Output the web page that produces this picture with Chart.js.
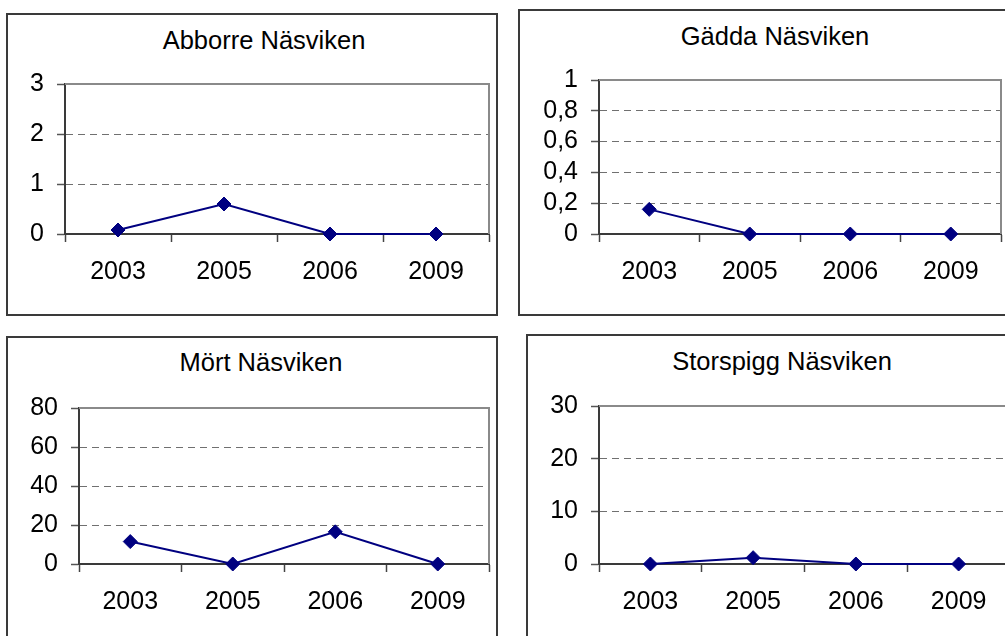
<!DOCTYPE html>
<html>
<head>
<meta charset="utf-8">
<script src="https://cdn.jsdelivr.net/npm/chart.js@4"></script>
<style>
  html, body { margin: 0; padding: 0; background: #fff; }
  body { width: 1005px; height: 636px; overflow: hidden; position: relative; font-family: "Liberation Sans", Arial, sans-serif; }
  .frame { position: absolute; border: 2px solid #3a3a3a; box-sizing: border-box; }
  .title { position: absolute; font-size: 25.5px; line-height: 25px; color: #000; white-space: nowrap; transform: translateX(-50%); }
  .layer { position: absolute; left: 0; top: 0; }
</style>
</head>
<body>
<div class="frame" style="left:6px;top:13px;width:492px;height:303px"></div>
<div class="frame" style="left:518px;top:9px;width:500px;height:307px"></div>
<div class="frame" style="left:6px;top:336px;width:492px;height:320px"></div>
<div class="frame" style="left:526px;top:334px;width:500px;height:320px"></div>

<div class="title" style="left:264px;top:28px">Abborre Näsviken</div>
<div class="title" style="left:775px;top:24px">Gädda Näsviken</div>
<div class="title" style="left:261px;top:350px">Mört Näsviken</div>
<div class="title" style="left:782px;top:349px">Storspigg Näsviken</div>

<canvas id="c1" class="layer" width="1020" height="636"></canvas>
<canvas id="c2" class="layer" width="1020" height="636"></canvas>
<canvas id="c3" class="layer" width="1020" height="636"></canvas>
<canvas id="c4" class="layer" width="1020" height="636"></canvas>

<script>
// Survey years
const years = ['2003', '2005', '2006', '2009'];

// Catch per species
const abborre   = [0.08, 0.6, 0, 0];
const gadda     = [0.16, 0, 0, 0];
const mort      = [11.5, 0, 16.5, 0];
const storspigg = [0, 1.2, 0, 0];

// Y-axis tick labels (Swedish decimal comma)
const abborreTicks   = ['0', '1', '2', '3'];
const gaddaTicks     = ['0', '0,2', '0,4', '0,6', '0,8', '1'];
const mortTicks      = ['0', '20', '40', '60', '80'];
const storspiggTicks = ['0', '10', '20', '30'];

const CW = 1020, CH = 636;   // canvas size
const Y_W = 60, X_H = 60;    // fixed axis box sizes

Chart.defaults.font.family = '"Liberation Sans", Arial, sans-serif';
Chart.defaults.font.size = 25;
Chart.defaults.color = '#000';

// Grey frame on the top and right of the plot area
const plotFrame = {
  id: 'plotFrame',
  beforeDatasetsDraw(chart) {
    const a = chart.chartArea, ctx = chart.ctx;
    ctx.save();
    ctx.strokeStyle = '#8a8a8a';
    ctx.lineWidth = 2;
    ctx.beginPath();
    ctx.moveTo(a.left, a.top);
    ctx.lineTo(a.right, a.top);
    ctx.lineTo(a.right, a.bottom);
    ctx.stroke();
    ctx.restore();
  }
};

function makeChart(id, values, yMax, yStep, yLabels, box) {
  return new Chart(document.getElementById(id), {
    type: 'line',
    data: {
      labels: years,
      datasets: [{
        data: values,
        borderColor: '#000080',
        backgroundColor: '#000080',
        borderWidth: 2,
        pointStyle: 'rectRot',
        pointRadius: 7,
        pointHoverRadius: 7,
        pointBorderWidth: 1,
        tension: 0,
        clip: false
      }]
    },
    options: {
      responsive: false,
      animation: false,
      events: [],
      layout: {
        padding: { left: box.l - Y_W, right: CW - box.r, top: box.t, bottom: CH - box.b - X_H }
      },
      plugins: { legend: { display: false }, title: { display: false }, tooltip: { enabled: false } },
      scales: {
        x: {
          offset: true,
          afterFit(s) { s.height = X_H; },
          grid: { offset: true, drawOnChartArea: false, drawTicks: true, tickLength: 8, tickColor: '#444', tickWidth: 1.5 },
          border: { display: true, color: '#3a3a3a', width: 2 },
          ticks: { padding: 15, maxRotation: 0, autoSkip: false }
        },
        y: {
          min: 0, max: yMax,
          afterFit(s) { s.width = Y_W; },
          grid: {
            color: c => (c.tick && c.tick.value === 0) ? 'rgba(0,0,0,0)' : '#707070',
            lineWidth: 1, tickLength: 8, tickColor: '#555', tickWidth: 1.5
          },
          border: { display: true, color: '#3a3a3a', width: 2, dash: [7, 5] },
          ticks: {
            stepSize: yStep, padding: 13, autoSkip: false,
            callback: (v, i) => yLabels[i]
          }
        }
      }
    },
    plugins: [plotFrame]
  });
}

makeChart('c1', abborre, 3, 1, abborreTicks, { l: 65, r: 489, t: 84, b: 234 });
makeChart('c2', gadda, 1, 0.2, gaddaTicks, { l: 599, r: 1001, t: 80, b: 234 });
makeChart('c3', mort, 80, 20, mortTicks, { l: 79, r: 489, t: 408, b: 564 });
makeChart('c4', storspigg, 30, 10, storspiggTicks, { l: 599, r: 1010, t: 406, b: 564 });
</script>
</body>
</html>
